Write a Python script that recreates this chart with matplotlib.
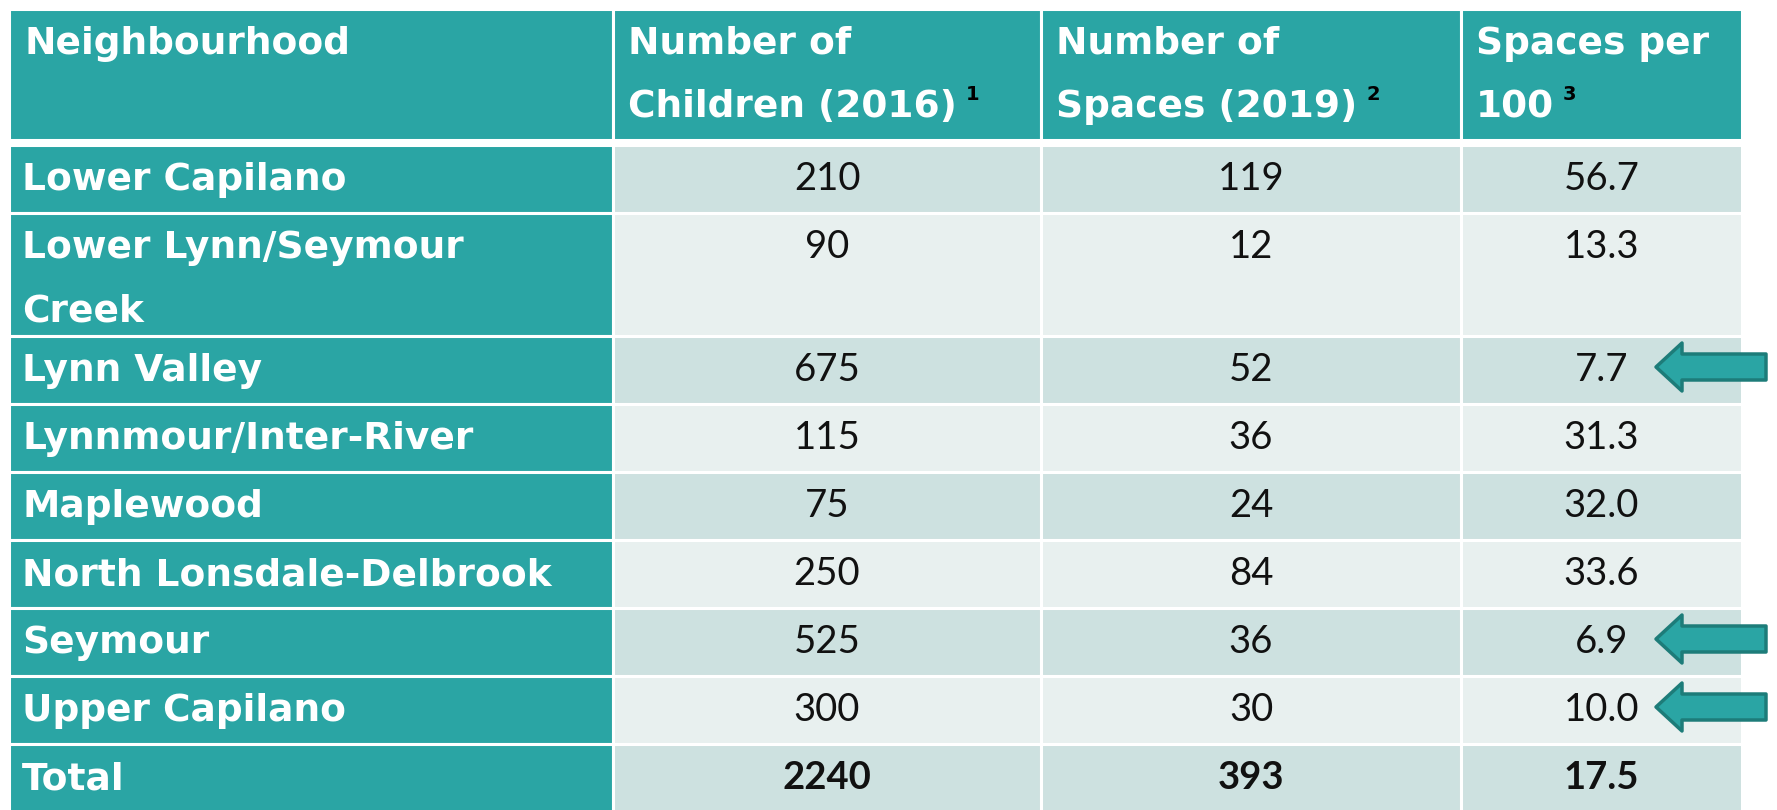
import matplotlib
matplotlib.use("Agg")
from matplotlib import pyplot as plt
from matplotlib.patches import Rectangle, Polygon

# table content
neighbourhoods = ["Lower Capilano", "Lower Lynn/Seymour\nCreek", "Lynn Valley",
                  "Lynnmour/Inter-River", "Maplewood", "North Lonsdale-Delbrook",
                  "Seymour", "Upper Capilano"]
children = [210, 90, 675, 115, 75, 250, 525, 300]
spaces = [119, 12, 52, 36, 24, 84, 36, 30]
per_100 = [56.7, 13.3, 7.7, 31.3, 32.0, 33.6, 6.9, 10.0]
totals = ["2240", "393", "17.5"]
headers = ["Neighbourhood", "Number of\nChildren (2016)", "Number of\nSpaces (2019)",
           "Spaces per\n100"]
footnotes = ["", "1", "2", "3"]
flagged = ["Lynn Valley", "Seymour", "Upper Capilano"]

TEAL = "#2aa5a4"
DARK = "#cde1e0"
LIGHT = "#e8f0ef"
W, H = 1777, 810

plt.rcParams["font.family"] = ["Lato", "DejaVu Sans"]
label_font = ["DejaVu Sans"]
fig = plt.figure(figsize=(W / 100, H / 100), dpi=100)
ax = fig.add_axes([0, 0, 1, 1])
ax.set_xlim(0, W)
ax.set_ylim(H, 0)
ax.axis("off")

cols = [9, 613, 1041, 1461, 1742]
fs = 27.5
lfs = 27
pad = 13
base = 45
line_h = 63


def cell(x0, x1, y0, y1, color):
    ax.add_patch(Rectangle((x0, y0), x1 - x0, y1 - y0, facecolor=color,
                           edgecolor="white", lw=2.2))


# header
renderer = fig.canvas.get_renderer()
for i, head in enumerate(headers):
    cell(cols[i], cols[i + 1], 9, 140, TEAL)
    lines = head.split("\n")
    for j, line in enumerate(lines):
        t = ax.text(cols[i] + 15, 9 + base + j * line_h, line, color="white",
                    fontsize=lfs, fontweight="bold", va="baseline", ha="left",
                    family=label_font)
    if footnotes[i]:
        bb = t.get_window_extent(renderer)
        xr = ax.transData.inverted().transform((bb.x1, 0))[0]
        ax.text(xr + 9, 9 + base + (len(lines) - 1) * line_h - 17, footnotes[i],
                color="black", fontsize=14, fontweight="bold", va="baseline",
                family=label_font)

# body
rows = [(n, str(c), str(s), f"{p:.1f}") for n, c, s, p in
        zip(neighbourhoods, children, spaces, per_100)]
rows.append(("Total", *totals))
y = 145
for r, row in enumerate(rows):
    n_lines = len(row[0].split("\n"))
    h = 68 * n_lines - 13 * (n_lines - 1)
    shade = DARK if r % 2 == 0 else LIGHT
    bold = row[0] == "Total"
    cell(cols[0], cols[1], y, y + h, TEAL)
    for j, line in enumerate(row[0].split("\n")):
        ax.text(cols[0] + pad, y + base + j * line_h, line, color="white",
                fontsize=lfs, fontweight="bold", va="baseline", family=label_font)
    for k in range(1, 4):
        cell(cols[k], cols[k + 1], y, y + h, shade)
        ax.text((cols[k] + cols[k + 1]) / 2, y + base, row[k], color="#111111",
                fontsize=fs, fontweight="bold" if bold else "normal",
                va="baseline", ha="center")
    if row[0] in flagged:
        cy = y + h / 2 - 3
        pts = [(1656, cy), (1682, cy - 24), (1682, cy - 13), (1766, cy - 13),
               (1766, cy + 13), (1682, cy + 13), (1682, cy + 24)]
        ax.add_patch(Polygon(pts, closed=True, facecolor=TEAL,
                             edgecolor="#1d7c79", lw=2.5, joinstyle="round"))
    y += h

fig.savefig("out.png", dpi=100)
